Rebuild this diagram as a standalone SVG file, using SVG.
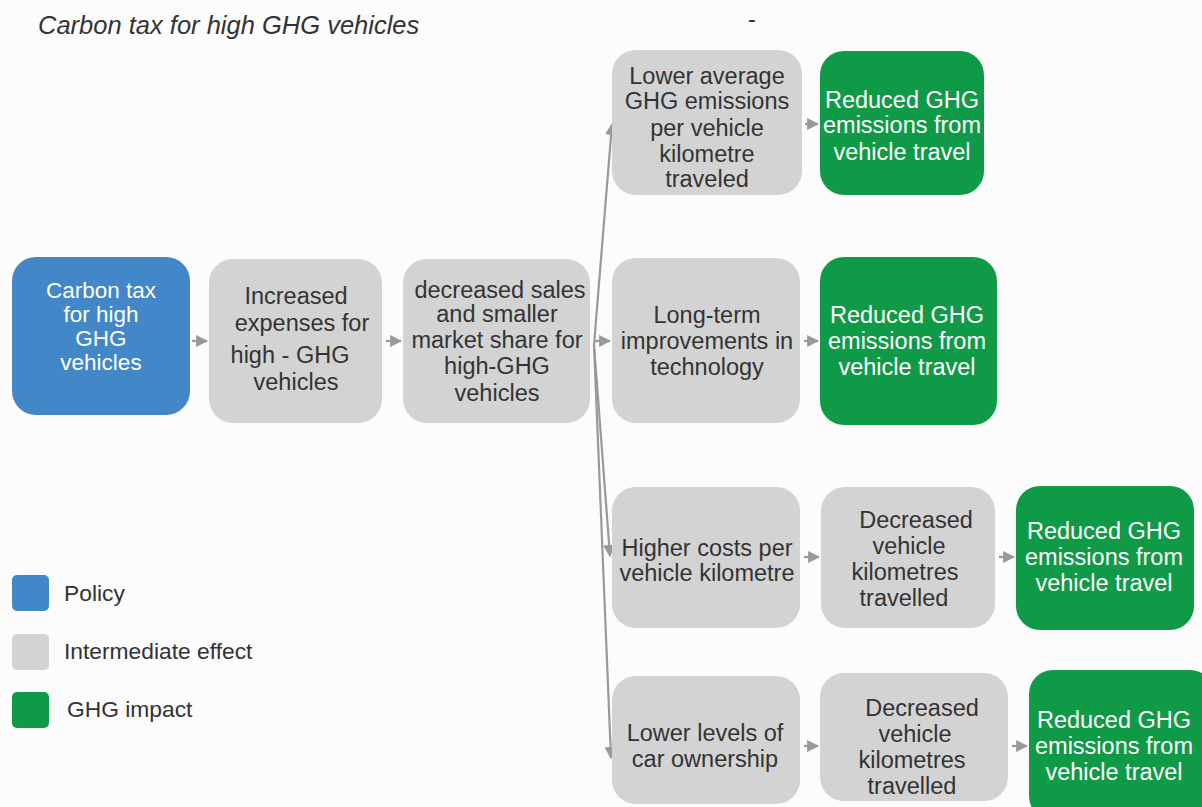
<svg xmlns="http://www.w3.org/2000/svg" width="1202" height="807" viewBox="0 0 1202 807">
  <style>
    .policy { fill: #4287c8; }
    .inter { fill: #d3d3d3; }
    .impact { fill: #0f9a47; }
    text { font-family: "Liberation Sans", Arial, sans-serif; font-size: 23.5px; text-anchor: middle; }
    .dark { fill: #333333; }
    .light { fill: #ffffff; }
    .tight { font-size: 22.5px; }
    .legend { text-anchor: start; fill: #333333; font-size: 22.8px; }
    .title { text-anchor: start; font-style: italic; font-size: 25.5px; fill: #333333; }
    .conn { stroke: #999999; stroke-width: 2.2; fill: none; }
  </style>
  <defs>
    <marker id="arrow" viewBox="0 0 10 10" refX="9" refY="5" markerWidth="5.5" markerHeight="5.5" orient="auto" markerUnits="strokeWidth">
      <path d="M0,0 L10,5 L0,10 z" fill="#999999"/>
    </marker>
  </defs>

  <rect width="1202" height="807" fill="#fcfcfc"/>

  <text class="title" x="38" y="34">Carbon tax for high GHG vehicles</text>
  <text class="dark" x="752" y="27">-</text>

  <!-- connectors -->
  <g id="connectors">
    <line class="conn" x1="192" y1="341" x2="207" y2="341" marker-end="url(#arrow)"/>
    <line class="conn" x1="386" y1="341" x2="401" y2="341" marker-end="url(#arrow)"/>
    <line class="conn" x1="595" y1="341" x2="610" y2="341" marker-end="url(#arrow)"/>
    <line class="conn" x1="594" y1="345" x2="612" y2="124" marker-end="url(#arrow)"/>
    <line class="conn" x1="594" y1="345" x2="610" y2="556" marker-end="url(#arrow)"/>
    <line class="conn" x1="594" y1="345" x2="611" y2="758" marker-end="url(#arrow)"/>
    <line class="conn" x1="805" y1="124" x2="818" y2="124" marker-end="url(#arrow)"/>
    <line class="conn" x1="804" y1="341" x2="818" y2="341" marker-end="url(#arrow)"/>
    <line class="conn" x1="804" y1="557" x2="819" y2="557" marker-end="url(#arrow)"/>
    <line class="conn" x1="999" y1="557" x2="1014" y2="557" marker-end="url(#arrow)"/>
    <line class="conn" x1="804" y1="746" x2="818" y2="746" marker-end="url(#arrow)"/>
    <line class="conn" x1="1012" y1="746" x2="1027" y2="746" marker-end="url(#arrow)"/>
  </g>

  <!-- policy -->
  <g id="node-policy">
    <rect class="policy" x="12" y="257" width="178" height="158" rx="24"/>
    <text class="light tight" x="101" y="298">Carbon tax</text>
    <text class="light tight" x="101" y="322">for high</text>
    <text class="light tight" x="101" y="346">GHG</text>
    <text class="light tight" x="101" y="370">vehicles</text>
  </g>

  <g id="node-expenses">
    <rect class="inter" x="209" y="259" width="173" height="164" rx="24"/>
    <text class="dark" x="296" y="304">Increased</text>
    <text class="dark" x="302" y="331">expenses for</text>
    <text class="dark" x="290" y="363">high - GHG</text>
    <text class="dark" x="296" y="390">vehicles</text>
  </g>

  <g id="node-sales">
    <rect class="inter" x="403" y="259" width="187" height="164" rx="24"/>
    <text class="dark" x="500" y="298">decreased sales</text>
    <text class="dark" x="497" y="322">and smaller</text>
    <text class="dark" x="497" y="348">market share for</text>
    <text class="dark" x="497" y="374">high-GHG</text>
    <text class="dark" x="497" y="401">vehicles</text>
  </g>

  <g id="node-lower-average">
    <rect class="inter" x="612" y="50" width="190" height="145" rx="24"/>
    <text class="dark" x="707" y="84">Lower average</text>
    <text class="dark" x="707" y="109">GHG emissions</text>
    <text class="dark" x="707" y="136">per vehicle</text>
    <text class="dark" x="707" y="162">kilometre</text>
    <text class="dark" x="707" y="187">traveled</text>
  </g>

  <g id="node-impact-1">
    <rect class="impact" x="820" y="51" width="164" height="144" rx="24"/>
    <text class="light" x="902" y="108">Reduced GHG</text>
    <text class="light" x="902" y="133">emissions from</text>
    <text class="light" x="902" y="160">vehicle travel</text>
  </g>

  <g id="node-technology">
    <rect class="inter" x="612" y="258" width="188" height="165" rx="24"/>
    <text class="dark" x="707" y="323">Long-term</text>
    <text class="dark" x="707" y="349">improvements in</text>
    <text class="dark" x="707" y="375">technology</text>
  </g>

  <g id="node-impact-2">
    <rect class="impact" x="820" y="257" width="177" height="168" rx="24"/>
    <text class="light" x="907" y="323">Reduced GHG</text>
    <text class="light" x="907" y="349">emissions from</text>
    <text class="light" x="907" y="375">vehicle travel</text>
  </g>

  <g id="node-costs">
    <rect class="inter" x="612" y="487" width="188" height="141" rx="24"/>
    <text class="dark" x="707" y="556">Higher costs per</text>
    <text class="dark" x="707" y="581">vehicle kilometre</text>
  </g>

  <g id="node-km-1">
    <rect class="inter" x="821" y="487" width="174" height="141" rx="24"/>
    <text class="dark" x="916" y="528">Decreased</text>
    <text class="dark" x="909" y="554">vehicle</text>
    <text class="dark" x="905" y="580">kilometres</text>
    <text class="dark" x="904" y="606">travelled</text>
  </g>

  <g id="node-impact-3">
    <rect class="impact" x="1016" y="486" width="178" height="144" rx="24"/>
    <text class="light" x="1104" y="539">Reduced GHG</text>
    <text class="light" x="1104" y="565">emissions from</text>
    <text class="light" x="1104" y="591">vehicle travel</text>
  </g>

  <g id="node-ownership">
    <rect class="inter" x="612" y="676" width="188" height="128" rx="24"/>
    <text class="dark" x="705" y="741">Lower levels of</text>
    <text class="dark" x="705" y="767">car ownership</text>
  </g>

  <g id="node-km-2">
    <rect class="inter" x="820" y="673" width="188" height="128" rx="24"/>
    <text class="dark" x="922" y="716">Decreased</text>
    <text class="dark" x="915" y="742">vehicle</text>
    <text class="dark" x="912" y="768">kilometres</text>
    <text class="dark" x="912" y="794">travelled</text>
  </g>

  <g id="node-impact-4">
    <rect class="impact" x="1029" y="670" width="185" height="150" rx="24"/>
    <text class="light" x="1114" y="728">Reduced GHG</text>
    <text class="light" x="1114" y="754">emissions from</text>
    <text class="light" x="1114" y="780">vehicle travel</text>
  </g>

  <!-- legend -->
  <g id="legend">
    <rect class="policy" x="12" y="575" width="37" height="36" rx="5"/>
    <text class="legend" x="64" y="601">Policy</text>
    <rect class="inter" x="12" y="634" width="37" height="36" rx="5"/>
    <text class="legend" x="64" y="659">Intermediate effect</text>
    <rect class="impact" x="12" y="692" width="37" height="36" rx="5"/>
    <text class="legend" x="67" y="717">GHG impact</text>
  </g>
</svg>
